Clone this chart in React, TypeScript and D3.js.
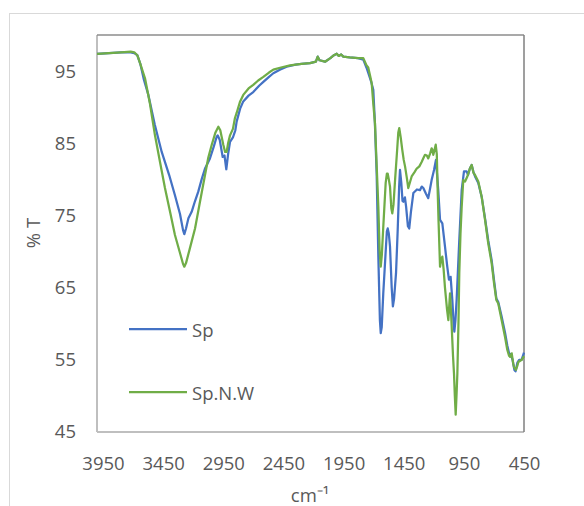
import { useEffect, useRef } from "react";
import * as d3 from "d3";

// [wavenumber cm-1, %T]
const spData: [number, number][] = [
  [4000, 97.4], [3900, 97.5], [3800, 97.6], [3720, 97.6], [3690, 97.5], [3665, 97.2],
  [3640, 96.0], [3610, 93.8], [3573, 91.7], [3520, 87.6], [3462, 83.8], [3400, 80.6],
  [3352, 77.8], [3310, 75.2], [3285, 73.0], [3274, 72.4], [3260, 73.2], [3240, 74.6],
  [3213, 75.5], [3185, 77.0], [3158, 78.3], [3130, 80.0], [3102, 81.5], [3075, 82.4],
  [3061, 82.9], [3030, 84.5], [3005, 85.9], [2997, 86.1], [2980, 85.5], [2955, 83.1],
  [2940, 83.3], [2925, 81.4], [2910, 83.5], [2894, 85.2], [2870, 85.8], [2850, 86.8],
  [2839, 88.0], [2810, 89.8], [2784, 90.8], [2740, 91.6], [2701, 92.1], [2650, 93.0],
  [2617, 93.5], [2570, 94.2], [2534, 94.7], [2480, 95.2], [2423, 95.6], [2350, 95.9],
  [2300, 96.0], [2229, 96.1], [2180, 96.3], [2165, 97.0], [2150, 96.5], [2104, 96.3],
  [2060, 96.8], [2030, 97.2], [2007, 97.4], [1990, 97.1], [1970, 97.3], [1952, 97.0],
  [1900, 96.9], [1830, 96.8], [1786, 96.6], [1760, 95.5], [1744, 94.7], [1720, 93.5],
  [1703, 92.4], [1690, 88.0], [1675, 80.8], [1661, 69.3], [1648, 60.5], [1641, 58.7],
  [1633, 59.5], [1620, 64.2], [1600, 70.0], [1590, 72.8], [1583, 73.2], [1574, 72.5],
  [1564, 70.7], [1550, 65.0], [1540, 62.4], [1530, 63.5], [1514, 67.0], [1500, 73.0],
  [1488, 79.0], [1481, 81.3], [1470, 79.5], [1460, 77.0], [1453, 76.9], [1440, 77.5],
  [1430, 76.2], [1415, 73.5], [1404, 73.2], [1390, 75.5], [1370, 78.1], [1340, 78.6],
  [1315, 78.5], [1300, 79.0], [1287, 78.8], [1265, 78.0], [1246, 77.4], [1230, 78.8],
  [1218, 79.9], [1198, 81.3], [1182, 82.7], [1172, 80.5], [1163, 78.5], [1148, 74.4],
  [1129, 73.9], [1107, 70.7], [1088, 67.9], [1074, 66.1], [1060, 66.5], [1046, 63.3],
  [1035, 60.0], [1029, 58.9], [1020, 60.5], [1010, 63.3], [988, 71.6], [968, 78.5],
  [949, 81.1], [927, 81.1], [915, 80.6], [900, 81.5], [885, 82.0], [870, 81.0],
  [857, 80.4], [830, 79.5], [802, 77.6], [774, 74.6], [747, 71.5], [719, 68.8],
  [699, 66.0], [680, 63.5], [664, 63.0], [636, 61.0], [608, 58.8], [589, 57.0],
  [570, 55.6], [560, 55.8], [545, 55.0], [530, 53.6], [520, 53.4], [505, 54.6],
  [490, 55.0], [470, 55.0], [450, 56.0],
];

const spNwData: [number, number][] = [
  [4000, 97.4], [3900, 97.5], [3800, 97.6], [3720, 97.7], [3690, 97.6], [3665, 97.2],
  [3640, 96.0], [3601, 94.0], [3560, 90.5], [3518, 86.1], [3475, 82.3], [3435, 78.8],
  [3390, 75.3], [3352, 72.3], [3310, 69.8], [3285, 68.3], [3274, 67.9], [3260, 68.4],
  [3230, 70.3], [3185, 73.2], [3145, 76.8], [3102, 80.6], [3075, 83.0], [3046, 84.8],
  [3015, 86.5], [2991, 87.3], [2975, 86.8], [2950, 84.8], [2935, 83.8], [2922, 83.8],
  [2910, 85.0], [2894, 86.1], [2870, 87.0], [2853, 88.5], [2839, 89.2], [2810, 90.8],
  [2784, 91.7], [2740, 92.6], [2701, 93.1], [2660, 93.7], [2617, 94.2], [2570, 94.8],
  [2534, 95.2], [2470, 95.5], [2395, 95.8], [2300, 96.0], [2229, 96.1], [2180, 96.3],
  [2165, 97.0], [2150, 96.5], [2104, 96.3], [2060, 96.8], [2030, 97.2], [2007, 97.4],
  [1990, 97.1], [1970, 97.3], [1952, 97.0], [1900, 96.9], [1830, 96.8], [1786, 96.8],
  [1760, 95.8], [1745, 95.5], [1725, 94.0], [1716, 93.3], [1703, 90.5], [1689, 87.8],
  [1675, 82.0], [1661, 76.2], [1650, 70.0], [1641, 67.9], [1632, 69.5], [1620, 73.4],
  [1600, 79.5], [1590, 80.8], [1583, 80.8], [1574, 80.0], [1564, 79.0], [1553, 76.0],
  [1545, 75.3], [1535, 76.5], [1522, 79.9], [1505, 84.0], [1495, 86.5], [1487, 87.1],
  [1475, 85.8], [1462, 84.1], [1450, 82.7], [1439, 81.8], [1425, 80.3], [1412, 78.8],
  [1398, 79.6], [1384, 80.4], [1360, 81.0], [1342, 81.5], [1320, 81.8], [1301, 82.4],
  [1285, 83.0], [1273, 83.4], [1258, 83.3], [1246, 82.9], [1230, 83.6], [1218, 84.3],
  [1210, 84.0], [1204, 83.4], [1195, 84.0], [1184, 84.8], [1175, 83.5], [1167, 78.0],
  [1160, 74.0], [1148, 67.9], [1140, 68.7], [1129, 69.3], [1118, 67.5], [1107, 65.0],
  [1090, 62.0], [1079, 60.5], [1065, 64.2], [1058, 62.0], [1051, 59.6], [1040, 55.5],
  [1032, 53.1], [1025, 50.0], [1018, 47.4], [1010, 50.5], [1004, 53.1], [995, 60.0],
  [988, 67.0], [978, 72.5], [968, 76.2], [955, 79.9], [940, 79.7], [921, 80.4],
  [900, 81.5], [885, 82.0], [870, 80.9], [857, 80.6], [830, 79.7], [802, 77.6],
  [774, 74.4], [747, 71.1], [719, 68.4], [699, 65.6], [680, 63.3], [664, 62.8],
  [636, 60.5], [608, 58.2], [589, 56.4], [575, 55.6], [566, 55.4], [552, 55.9],
  [540, 54.5], [533, 54.0], [517, 53.6], [505, 54.2], [497, 54.7], [469, 55.0],
  [450, 55.5],
];

const xTicks = [3950, 3450, 2950, 2450, 1950, 1450, 950, 450];
const yTicks = [45, 55, 65, 75, 85, 95];
const seriesNames = ["Sp", "Sp.N.W"];
const seriesColors = ["#4472C4", "#70AD47"];

export default function App() {
  const svgRef = useRef<SVGSVGElement>(null);
  const width = 584;
  const height = 506;

  useEffect(() => {
    if (!svgRef.current) return;
    const svg = d3.select(svgRef.current);
    svg.selectAll("*").remove();

    const font = "'Open Sans', 'Liberation Sans', sans-serif";
    const plot = { left: 97, right: 524, top: 35, bottom: 432 };

    const x = d3.scaleLinear().domain([4000, 450]).range([plot.left, plot.right]);
    const y = d3.scaleLinear().domain([45, 100]).range([plot.bottom, plot.top]);

    // outer chart frame
    svg
      .append("rect")
      .attr("x", 9.5)
      .attr("y", 13.5)
      .attr("width", 640)
      .attr("height", 600)
      .attr("fill", "#fff")
      .attr("stroke", "#d9d9d9")
      .attr("stroke-width", 1);

    // plot area borders
    const border = svg.append("g");
    border.append("line")
      .attr("x1", plot.left).attr("x2", plot.left)
      .attr("y1", plot.top).attr("y2", plot.bottom)
      .attr("stroke", "#bfbfbf").attr("stroke-width", 2);
    border.append("line")
      .attr("x1", plot.left).attr("x2", plot.right)
      .attr("y1", plot.bottom).attr("y2", plot.bottom)
      .attr("stroke", "#bfbfbf").attr("stroke-width", 2);
    border.append("line")
      .attr("x1", plot.left).attr("x2", plot.right)
      .attr("y1", plot.top).attr("y2", plot.top)
      .attr("stroke", "#8c8c8c").attr("stroke-width", 1.5);
    border.append("line")
      .attr("x1", plot.right).attr("x2", plot.right)
      .attr("y1", plot.top).attr("y2", plot.bottom)
      .attr("stroke", "#7f7f7f").attr("stroke-width", 1.5);

    // X axis
    const xAxis = svg
      .append("g")
      .attr("transform", `translate(0,${plot.bottom})`)
      .call(d3.axisBottom(x).tickValues(xTicks).tickSize(0).tickPadding(25).tickFormat(d3.format("d")));
    xAxis.selectAll("text")
      .style("font-family", font)
      .style("font-size", "18.5px")
      .style("fill", "#595959");

    // Y axis
    const yAxis = svg
      .append("g")
      .attr("transform", `translate(${plot.left},0)`)
      .call(d3.axisLeft(y).tickValues(yTicks).tickSize(0).tickPadding(21));
    yAxis.selectAll("text")
      .style("font-family", font)
      .style("font-size", "18.5px")
      .style("fill", "#595959");

    svg.selectAll(".domain").remove();

    // lines
    const line = d3
      .line<[number, number]>()
      .x((d) => x(d[0]))
      .y((d) => y(d[1]));

    [spData, spNwData].forEach((series, i) => {
      svg
        .append("path")
        .datum(series)
        .attr("fill", "none")
        .attr("stroke", seriesColors[i])
        .attr("stroke-width", 2.25)
        .attr("stroke-linejoin", "round")
        .attr("d", line);
    });

    // legend
    const legend = svg.append("g");
    seriesNames.forEach((name, i) => {
      const ly = 329 + i * 63;
      legend.append("line")
        .attr("x1", 129).attr("x2", 187)
        .attr("y1", ly).attr("y2", ly)
        .attr("stroke", seriesColors[i])
        .attr("stroke-width", 2.25);
      legend.append("text")
        .attr("x", 192)
        .attr("y", ly)
        .attr("dominant-baseline", "central")
        .style("font-family", font)
        .style("font-size", "18.5px")
        .style("fill", "#595959")
        .text(name);
    });

    // axis titles
    svg.append("text")
      .attr("x", 310)
      .attr("y", 494)
      .attr("text-anchor", "middle")
      .attr("dominant-baseline", "central")
      .style("font-family", font)
      .style("font-size", "18.5px")
      .style("fill", "#595959")
      .text("cm\u207B\u00B9");

    svg.append("text")
      .attr("transform", "translate(32,233) rotate(-90)")
      .attr("text-anchor", "middle")
      .attr("dominant-baseline", "central")
      .style("font-family", font)
      .style("font-size", "18.5px")
      .style("fill", "#595959")
      .text("% T");
  }, []);

  return (
    <svg
      ref={svgRef}
      width={width}
      height={height}
      style={{ position: "absolute", left: 0, top: 0, background: "#fff" }}
    />
  );
}
